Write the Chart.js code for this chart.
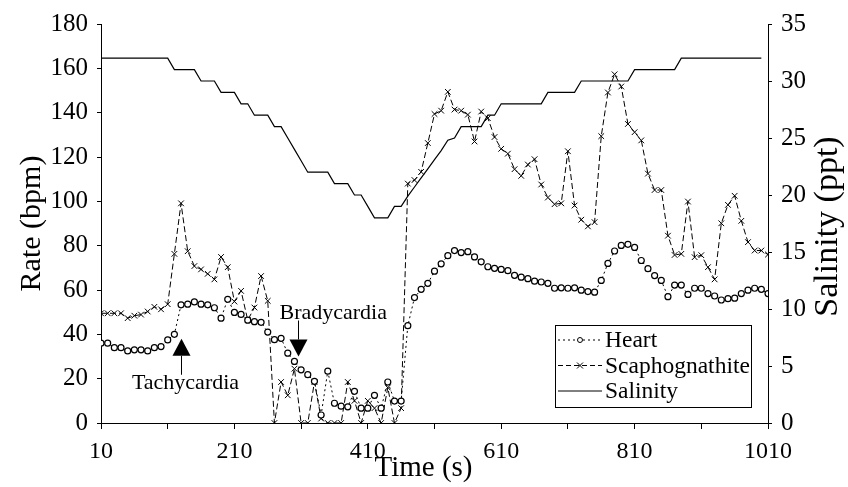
<!DOCTYPE html>
<html lang="en">
<head>
<meta charset="UTF-8">
<title>Heart and scaphognathite rate</title>
<script src="https://cdn.jsdelivr.net/npm/chart.js"></script>
<style>
  html, body { margin: 0; padding: 0; background: #fff; }
  #wrap { width: 848px; height: 487px; }
</style>
</head>
<body>
<div id="wrap"><canvas id="myChart"></canvas></div>
<script>
// time (s), one reading every 10 s
const times = [10, 20, 30, 40, 50, 60, 70, 80, 90, 100,
  110, 120, 130, 140, 150, 160, 170, 180, 190, 200,
  210, 220, 230, 240, 250, 260, 270, 280, 290, 300,
  310, 320, 330, 340, 350, 360, 370, 380, 390, 400,
  410, 420, 430, 440, 450, 460, 470, 480, 490, 500,
  510, 520, 530, 540, 550, 560, 570, 580, 590, 600,
  610, 620, 630, 640, 650, 660, 670, 680, 690, 700,
  710, 720, 730, 740, 750, 760, 770, 780, 790, 800,
  810, 820, 830, 840, 850, 860, 870, 880, 890, 900,
  910, 920, 930, 940, 950, 960, 970, 980, 990, 1000, 1010];

// heart rate (bpm)
const heart = [36, 36, 34, 34, 32.5, 33, 33, 32.5, 34, 34.5,
  37.5, 40, 53.3, 53.6, 54.6, 53.6, 53.3, 52, 47.3, 55.8,
  49.9, 49, 46.4, 45.7, 45.4, 41, 37.6, 38.2, 31.5, 27.8,
  24, 21.8, 18.8, 3.6, 23.4, 8.9, 7.6, 7.3, 14.3, 6.7,
  6.7, 12.5, 6.7, 18.5, 9.9, 9.9, 43.9, 56.6, 60.3, 63,
  68.5, 71.8, 75.5, 77.8, 76.9, 77.3, 74.9, 72.7, 70.5, 69.8,
  69.3, 68.7, 66.6, 65.8, 65.1, 64, 63.6, 63, 60.8, 61,
  60.8, 61, 59.9, 59.3, 59, 64.3, 72, 77.6, 80.1, 80.6,
  79.2, 73.3, 69.6, 66.5, 64.3, 57, 62.2, 62.2, 58, 60.8,
  60.8, 58.4, 57.3, 55.5, 56.1, 56.3, 58.4, 59.9, 60.8, 60.3, 58.4];

// scaphognathite rate (bpm)
const scapho = [49.5, 49.5, 49.5, 49.5, 47.3, 48.4, 48.9, 50.3, 52.4, 51.3,
  53.6, 76.3, 99.1, 77.5, 70.8, 69.3, 67.3, 64.8, 74.9, 70.3,
  54.8, 59.6, 46.4, 52.1, 66.3, 55.1, 0, 18.5, 12.5, 24.5,
  0, 0, 18.5, 2, 0, 0, 0, 18.5, 10, 0,
  10, 6.7, 0, 16, 0, 6.7, 108, 109.6, 113.3, 126.3,
  139.4, 140.9, 149.4, 141.4, 140.9, 139.1, 127, 140.5, 137.5, 129,
  123.7, 121.5, 114.5, 111.5, 116.6, 119, 107.6, 101.7, 98.7, 99.1,
  122.6, 98.1, 91.7, 88.7, 90.6, 129.4, 149.1, 157.3, 151.8, 134.9,
  131.2, 127.5, 112.5, 105.1, 105.1, 84.5, 75.8, 76.3, 99.9, 74.8,
  75.7, 70.3, 64.8, 90.1, 98.4, 102.5, 91.2, 81.6, 77.8, 77.8, 76];

// salinity (ppt)
const salinity = [32, 32, 32, 32, 32, 32, 32, 32, 32, 32,
  32, 31, 31, 31, 31, 30, 30, 30, 29, 29,
  29, 28, 28, 27, 27, 27, 26, 26, 25, 24,
  23, 22, 22, 22, 22, 21, 21, 21, 20, 20,
  19, 18, 18, 18, 19, 19, 19.9, 20.7, 21.5, 22.3,
  23.1, 23.9, 24.8, 25, 26, 26, 26, 26, 27, 27,
  28, 28, 28, 28, 28, 28, 28, 29, 29, 29,
  29, 29, 30, 30, 30, 30, 30, 30, 30, 30,
  31, 31, 31, 31, 31, 31, 31, 32, 32, 32,
  32, 32, 32, 32, 32, 32, 32, 32, 32, 32, null];

const timeTicks = [10, 110, 210, 310, 410, 510, 610, 710, 810, 910, 1010];
const timeLabels = [10, 210, 410, 610, 810, 1010];

const SERIF = '"Liberation Serif", "Times New Roman", serif';

function pts(vals) {
  return times.map((t, i) => ({ x: t, y: vals[i] }));
}

// arrows with captions, in data units
const notes = [
  { text: 'Tachycardia', t: 130, rate: 38, dir: 'up' },
  { text: 'Bradycardia', t: 305, rate: 30, dir: 'down' }
];

const extras = {
  id: 'extras',
  afterDraw(chart) {
    const ctx = chart.ctx;
    const a = chart.chartArea;
    const xs = chart.scales.x, ys = chart.scales.y;
    ctx.save();
    ctx.fillStyle = '#000';
    ctx.strokeStyle = '#000';
    ctx.lineWidth = 1;

    // arrows
    notes.forEach(n => {
      const px = Math.round(xs.getPixelForValue(n.t)) + 0.5;
      const py = ys.getPixelForValue(n.rate);
      const s = n.dir === 'up' ? 1 : -1;
      ctx.beginPath();
      ctx.moveTo(px, py);
      ctx.lineTo(px - 9, py + s * 17);
      ctx.lineTo(px + 9, py + s * 17);
      ctx.closePath();
      ctx.fill();
      ctx.beginPath();
      ctx.moveTo(px, py + s * 17);
      ctx.lineTo(px, py + s * 36);
      ctx.stroke();
      ctx.font = '22px ' + SERIF;
      ctx.textBaseline = 'alphabetic';
      if (n.dir === 'up') {
        ctx.textAlign = 'center';
        ctx.fillText(n.text, px + 4, py + 50);
      } else {
        ctx.textAlign = 'left';
        ctx.fillText(n.text, px - 19, py - 38);
      }
    });

    // axis titles
    ctx.textAlign = 'center';
    ctx.textBaseline = 'middle';
    ctx.font = '29px ' + SERIF;
    ctx.fillText('Time (s)', (a.left + a.right) / 2 - 11, 468);
    ctx.save();
    ctx.translate(32, (a.top + a.bottom) / 2);
    ctx.rotate(-Math.PI / 2);
    ctx.font = '30px ' + SERIF;
    ctx.fillText('Rate (bpm)', 0, 0);
    ctx.restore();
    ctx.save();
    ctx.translate(828, (a.top + a.bottom) / 2 + 3);
    ctx.rotate(-Math.PI / 2);
    ctx.font = '34px ' + SERIF;
    ctx.fillText('Salinity (ppt)', 0, 0);
    ctx.restore();

    // legend box
    const bx = a.right - 213, by = a.bottom - 98, bw = 196, bh = 82;
    ctx.fillStyle = '#fff';
    ctx.fillRect(bx, by, bw, bh);
    ctx.strokeRect(bx + 0.5, by + 0.5, bw, bh);
    ctx.fillStyle = '#000';
    const rows = [
      { label: 'Heart', dash: [2, 3], marker: 'circle' },
      { label: 'Scaphognathite', dash: [5, 3], marker: 'cross' },
      { label: 'Salinity', dash: [], marker: null }
    ];
    rows.forEach((r, i) => {
      const ly = by + 15 + i * 25.5;
      ctx.setLineDash(r.dash);
      ctx.beginPath();
      ctx.moveTo(bx + 3, ly);
      ctx.lineTo(bx + 47, ly);
      ctx.stroke();
      ctx.setLineDash([]);
      const mx = bx + 25;
      if (r.marker === 'circle') {
        ctx.fillStyle = '#fff';
        ctx.beginPath();
        ctx.arc(mx, ly, 2.5, 0, Math.PI * 2);
        ctx.fill();
        ctx.stroke();
        ctx.fillStyle = '#000';
      } else if (r.marker === 'cross') {
        ctx.beginPath();
        ctx.moveTo(mx - 3, ly - 3); ctx.lineTo(mx + 3, ly + 3);
        ctx.moveTo(mx - 3, ly + 3); ctx.lineTo(mx + 3, ly - 3);
        ctx.stroke();
      }
      ctx.font = '23.5px ' + SERIF;
      ctx.textAlign = 'left';
      ctx.textBaseline = 'middle';
      ctx.fillText(r.label, bx + 50, ly + 1);
    });
    ctx.restore();
  }
};

const axisLine = { display: true, color: '#000', width: 1 };
const outTicks = { display: true, drawOnChartArea: false, drawTicks: true, tickLength: 4, color: '#000', lineWidth: 1 };

const myChart = new Chart(document.querySelector('#myChart'), {
  type: 'line',
  data: {
    datasets: [
      {
        label: 'Heart',
        data: pts(heart),
        yAxisID: 'y',
        borderColor: '#000',
        borderWidth: 1,
        borderDash: [2, 3],
        pointStyle: 'circle',
        pointRadius: 3,
        pointBorderWidth: 1.2,
        pointBorderColor: '#000',
        pointBackgroundColor: '#fff',
        tension: 0
      },
      {
        label: 'Scaphognathite',
        data: pts(scapho),
        yAxisID: 'y',
        borderColor: '#000',
        borderWidth: 1,
        borderDash: [6, 3],
        pointStyle: 'crossRot',
        pointRadius: 4,
        pointBorderWidth: 1,
        pointBorderColor: '#000',
        tension: 0
      },
      {
        label: 'Salinity',
        data: pts(salinity),
        yAxisID: 'y1',
        borderColor: '#000',
        borderWidth: 1.2,
        pointRadius: 0,
        tension: 0
      }
    ]
  },
  options: {
    responsive: true,
    maintainAspectRatio: false,
    animation: false,
    layout: { padding: { top: 21, left: 0, right: 0, bottom: 0 } },
    plugins: { legend: { display: false }, tooltip: { enabled: false } },
    scales: {
      x: {
        type: 'linear',
        min: 10,
        max: 1010,
        afterBuildTicks: s => { s.ticks = timeTicks.map(v => ({ value: v })); },
        afterFit: s => { s.height = 64; },
        grid: { ...outTicks, tickLength: 6 },
        border: axisLine,
        ticks: {
          autoSkip: false,
          maxRotation: 0,
          padding: 8,
          color: '#000',
          font: { family: SERIF, size: 24 },
          callback: v => timeLabels.includes(v) ? String(v) : ''
        }
      },
      y: {
        position: 'left',
        min: 0,
        max: 180,
        afterFit: s => { s.width = 101; },
        grid: outTicks,
        border: axisLine,
        ticks: { stepSize: 20, padding: 9, color: '#000', font: { family: SERIF, size: 25 } }
      },
      y1: {
        position: 'right',
        min: 0,
        max: 35,
        afterFit: s => { s.width = 80; },
        grid: outTicks,
        border: axisLine,
        ticks: { stepSize: 5, padding: 9, color: '#000', font: { family: SERIF, size: 25 } }
      }
    }
  },
  plugins: [extras]
});
</script>
</body>
</html>
